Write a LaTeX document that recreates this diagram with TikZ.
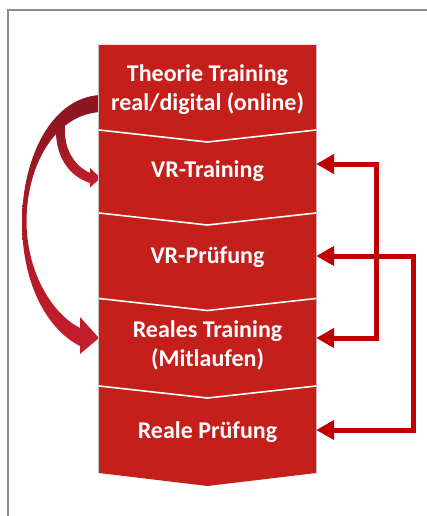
\documentclass[tikz,border=0pt]{standalone}
\usepackage{fontspec}
\newfontfamily\carl{Carlito}
\usetikzlibrary{arrows.meta}
\definecolor{blockred}{RGB}{196,31,26}
\definecolor{linkred}{RGB}{192,0,0}
\definecolor{darkarc}{RGB}{138,22,32}
\definecolor{lightarc}{RGB}{200,30,45}
\definecolor{framegray}{RGB}{140,140,140}
\tikzset{
  blocktext/.style={text=white, font=\carl\bfseries\fontsize{24}{29}\selectfont,
    align=center, minimum width=217pt, inner sep=0pt},
  link/.style={draw=linkred, line width=5pt,
    {Triangle[length=18pt,width=19pt]}-{Triangle[length=18pt,width=19pt]}},
  sep/.style={draw=white, line width=1.6pt},
  arcshade/.style={top color=darkarc, bottom color=lightarc, draw=none}
}
\begin{document}
\begin{tikzpicture}[x=1pt,y=-1pt]
\useasboundingbox (0,0) rectangle (427,516);
% frame
\draw[framegray, line width=1.3pt] (8,516) -- (8,10) -- (427,10);
% small curved arrow
\shade[arcshade] (56,128) .. controls (55,155) and (68,176) .. (90,183)
  -- (90,187.5) -- (100.5,178) -- (90,168) -- (90,173)
  .. controls (75,166) and (63,150) .. (65,124) -- cycle;
% big curved arrow
\shade[arcshade] (104,95) -- (100,95) .. controls (50,98) and (22,160) .. (22,222)
  .. controls (22,285) and (48,330) .. (80,346) -- (80,354) -- (99,338) -- (80,317)
  -- (80,328) .. controls (54,315) and (27,275) .. (26.5,222)
  .. controls (26.5,165) and (55,115) .. (100,112) -- (104,112) -- cycle;
% column
\draw[gray!45, line width=0.8pt] (98.5,44) -- (98.5,473.5) (316.5,44) -- (316.5,473.5);
\fill[blockred] (99,45) -- (316,45) -- (316,473) -- (207.5,486) -- (99,473) -- cycle;
\draw[sep] (99,130) -- (207.5,142) -- (316,130);
\draw[sep] (99,213) -- (207.5,225) -- (316,213);
\draw[sep] (99,298.5) -- (207.5,310.5) -- (316,298.5);
\draw[sep] (99,386) -- (207.5,398) -- (316,386);
% texts
\node[blocktext] (b1) at (207.5,90) {Theorie Training\\real/digital (online)};
\node[blocktext] (b2) at (207.5,171) {VR-Training};
\node[blocktext] (b3) at (207.5,257) {VR-Prüfung};
\node[blocktext] (b4) at (207.5,345) {Reales Training\\(Mitlaufen)};
\node[blocktext] (b5) at (207.5,432) {Reale Prüfung};
% right connectors
\draw[link] ([yshift=7pt]b2.east) -- ++(60,0) |- ([yshift=7pt]b4.east);
\draw[link] ([yshift=1pt]b3.east) -- ++(97,0) |- ([yshift=2pt]b5.east);
\end{tikzpicture}
\end{document}
